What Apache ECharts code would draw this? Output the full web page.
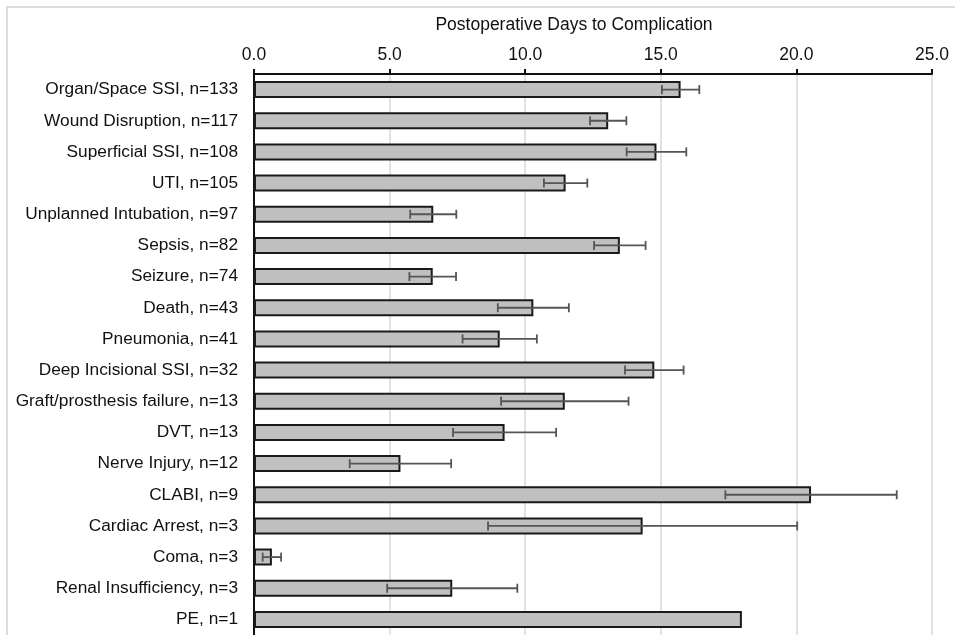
<!DOCTYPE html>
<html>
<head>
<meta charset="utf-8">
<script src="https://cdn.jsdelivr.net/npm/echarts@6/dist/echarts.min.js"></script>
<style>
html,body{margin:0;padding:0;background:#fff;}
#c{width:955px;height:635px;}
</style>
</head>
<body>
<div id="c"></div>
<script>
const categories = [
  "Organ/Space SSI, n=133",
  "Wound Disruption, n=117",
  "Superficial SSI, n=108",
  "UTI, n=105",
  "Unplanned Intubation, n=97",
  "Sepsis, n=82",
  "Seizure, n=74",
  "Death, n=43",
  "Pneumonia, n=41",
  "Deep Incisional SSI, n=32",
  "Graft/prosthesis failure, n=13",
  "DVT, n=13",
  "Nerve Injury, n=12",
  "CLABI, n=9",
  "Cardiac Arrest, n=3",
  "Coma, n=3",
  "Renal Insufficiency, n=3",
  "PE, n=1"
];
const meanDays = [15.73, 13.06, 14.84, 11.49, 6.61, 13.49, 6.59, 10.30, 9.06, 14.76, 11.46, 9.24, 5.40, 20.54, 14.33, 0.66, 7.31, 17.99];
const errorDays = [0.69, 0.67, 1.10, 0.80, 0.85, 0.95, 0.86, 1.31, 1.37, 1.08, 2.35, 1.90, 1.87, 3.16, 5.70, 0.34, 2.40, 0];
const xTicks = [0, 5, 10, 15, 20, 25];
const axisTitle = "Postoperative Days to Complication";

const errData = [];
meanDays.forEach((m, i) => {
  if (errorDays[i] > 0) errData.push([m - errorDays[i], m + errorDays[i], i]);
});

const FONT = '"Liberation Sans", Arial, Helvetica, sans-serif';
const chart = echarts.init(document.getElementById('c'));
chart.setOption({
  animation: false,
  backgroundColor: '#fff',
  graphic: [{
    type: 'rect',
    shape: {x: 7, y: 7, width: 960, height: 640},
    style: {fill: 'none', stroke: '#dcdcdc', lineWidth: 2},
    silent: true, z: -10
  }],
  grid: {left: 254, right: 23, top: 74, bottom: 0, containLabel: false},
  xAxis: {
    type: 'value',
    position: 'top',
    min: xTicks[0],
    max: xTicks[xTicks.length - 1],
    interval: xTicks[1] - xTicks[0],
    name: axisTitle,
    nameLocation: 'middle',
    nameGap: 40,
    nameTextStyle: {fontFamily: FONT, fontSize: 17.5, color: '#111', padding: [0, 38, 0, 0]},
    axisLine: {show: true, lineStyle: {color: '#111', width: 2}},
    axisTick: {show: true, inside: false, length: 5, lineStyle: {color: '#111', width: 2}},
    axisLabel: {
      fontFamily: FONT, fontSize: 17.5, color: '#111', margin: 10,
      formatter: v => v.toFixed(1)
    },
    splitLine: {show: true, lineStyle: {color: '#d9d9d9', width: 1.5}}
  },
  yAxis: {
    type: 'category',
    data: categories,
    inverse: true,
    axisLine: {show: true, lineStyle: {color: '#111', width: 2}},
    axisTick: {show: false},
    axisLabel: {fontFamily: FONT, fontSize: 17.3, color: '#111', margin: 16}
  },
  series: [{
    type: 'bar',
    data: meanDays,
    barWidth: 17,
    itemStyle: {color: '#c0c0c0', borderColor: '#1a1a1a', borderWidth: 2},
    z: 2
  }, {
    type: 'custom',
    data: errData,
    z: 5,
    renderItem: function (params, api) {
      const lo = api.coord([api.value(0), api.value(2)]);
      const hi = api.coord([api.value(1), api.value(2)]);
      const h = 4.5;
      const st = {stroke: '#555', lineWidth: 1.8};
      return {
        type: 'group',
        children: [
          {type: 'line', shape: {x1: lo[0], y1: lo[1], x2: hi[0], y2: hi[1]}, style: st},
          {type: 'line', shape: {x1: lo[0], y1: lo[1] - h, x2: lo[0], y2: lo[1] + h}, style: st},
          {type: 'line', shape: {x1: hi[0], y1: hi[1] - h, x2: hi[0], y2: hi[1] + h}, style: st}
        ]
      };
    }
  }]
});
</script>
</body>
</html>
